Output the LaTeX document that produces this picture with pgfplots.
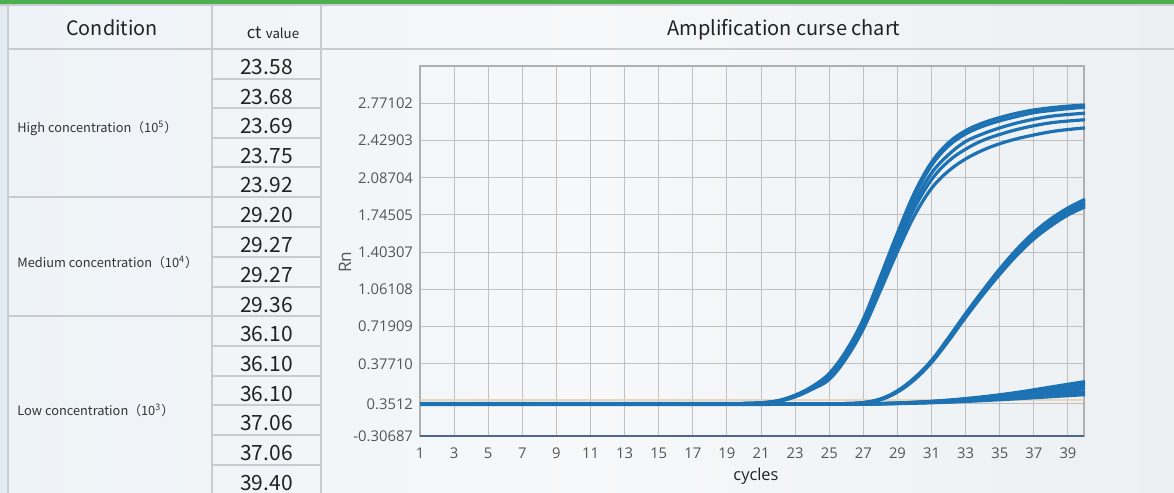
\documentclass[border=0pt]{standalone}
\usepackage{pgfplots}
\pgfplotsset{compat=1.18}
\usepackage{fontspec}
\setmainfont{Noto Sans}
\newfontfamily\cjk{Noto Sans CJK SC}
\newfontfamily\tickfont{Open Sans}
\definecolor{curve}{RGB}{28,114,178}
\definecolor{tline}{RGB}{200,203,207}
\definecolor{gbar}{RGB}{76,175,80}
\definecolor{gridc}{RGB}{192,192,192}
\definecolor{tickc}{RGB}{85,85,85}
\definecolor{txt}{RGB}{34,34,34}
\definecolor{edgebg}{RGB}{226,235,242}
\definecolor{thr}{RGB}{232,214,188}
\definecolor{axbot}{RGB}{78,104,136}
\definecolor{axgray}{RGB}{175,175,175}
\definecolor{grptxt}{RGB}{51,51,51}
\pgfplotsset{qpcr/.style={color=curve, solid, line width=1.6pt, smooth, tension=0.6, mark=none}}

\begin{document}
\begin{tikzpicture}
\begin{scope}[x=0.5pt,y=-0.5pt]
\useasboundingbox (0,0) rectangle (1174,493);
\shade[left color={rgb,255:red,238;green,243;blue,247}, right color={rgb,255:red,236;green,240;blue,243}, middle color={rgb,255:red,246;green,248;blue,250}] (0,0) rectangle (1174,493);
\fill[edgebg] (0,6) rectangle (8,493);
\fill[gbar] (0,0) rectangle (1174,3.5);
\fill[tline] (0,3.5) rectangle (1174,6);
% table lines
\begin{scope}[tline, line width=1pt]
\draw (8,5) -- (8,493);
\draw (212,5) -- (212,493);
\draw (321,5) -- (321,493);
\draw (8,49) -- (1174,49);
\draw (8,197) -- (321,197);
\draw (8,316) -- (321,316);
\foreach \y in {79,108,138,167,227,257,287,346,376,405,435,465}
  \draw (212,\y) -- (321,\y);
\end{scope}
% header texts
\node[font=\cjk\fontsize{9.9}{11}\selectfont, text=txt] at (112,28) {Condition};
\node[font=\cjk, text=txt] at (273,33) {{\fontsize{8.3}{10}\selectfont ct} {\fontsize{6.6}{8}\selectfont value}};
\node[font=\cjk\fontsize{10}{11}\selectfont, text=txt] at (784,30) {Amplification curse chart};
% group labels
\begin{scope}[font=\cjk\fontsize{6.4}{8}\selectfont, text=grptxt]
\node[anchor=west, inner sep=0pt] at (17,128) {High concentration（10\textsuperscript{5}）};
\node[anchor=west, inner sep=0pt] at (17,262) {Medium concentration（10\textsuperscript{4}）};
\node[anchor=west, inner sep=0pt] at (17,410) {Low concentration（10\textsuperscript{3}）};
\end{scope}
% ct values
\foreach \v/\y in {23.58/64,23.68/93.5,23.69/123,23.75/152.5,23.92/182,29.20/212,29.27/242,29.27/272,29.36/301.5,36.10/331,36.10/361,36.10/390.5,37.06/420,37.06/450,39.40/479.5}
  \node[font=\cjk\fontsize{10.5}{12}\selectfont, text=txt, inner sep=0pt] at (266.5,\y+3.5) {\v};
\end{scope}

\begin{axis}[
  at={(210pt,-218pt)}, anchor=south west,
  width=332pt, height=185pt, scale only axis,
  xmin=1, xmax=39.94, ymin=-0.285, ymax=3.1136,
  clip=false,
  xtick={1,3,...,39},
  ytick={-0.285,0.009,0.37710,0.71909,1.06108,1.40307,1.74505,2.08704,2.42903,2.77102},
  yticklabels={-0.30687,0.3512,0.37710,0.71909,1.06108,1.40307,1.74505,2.08704,2.42903,2.77102},
  grid=major,
  major grid style={gridc, line width=0.5pt},
  axis line style={axgray, line width=0.6pt},
  major tick length=0pt,
  /pgf/number format/assume math mode=true,
  tick label style={font=\tickfont\fontsize{7.4}{9}\selectfont, text=tickc},
  xticklabel style={yshift=-2.2pt},
  xlabel={cycles}, ylabel={Rn},
  xlabel style={at={(axis description cs:0.506,-0.108)}, anchor=center, font=\tickfont\fontsize{8.2}{10}\selectfont, text=txt},
  ylabel style={at={(axis description cs:-0.113,0.47)}, anchor=center, font=\tickfont\fontsize{8.6}{10}\selectfont, text=tickc},
]
% threshold
\addplot[thr, line width=0.6pt, sharp plot, mark=none] coordinates {(1,0.045) (39.94,0.045)};
% low concentration
\addplot[qpcr] coordinates {(1,0.01)(10,0.01)(20,0.011)(26,0.011)(28,0.013)(30,0.025)(32,0.045)(34,0.075)(36,0.115)(38,0.165)(40,0.215)};
\addplot[qpcr] coordinates {(1,0.012)(10,0.012)(20,0.012)(26,0.012)(28,0.014)(30,0.024)(32,0.042)(34,0.07)(36,0.105)(38,0.15)(40,0.2)};
\addplot[qpcr] coordinates {(1,0.008)(10,0.008)(20,0.009)(26,0.01)(28,0.012)(30,0.022)(32,0.038)(34,0.062)(36,0.095)(38,0.135)(40,0.175)};
\addplot[qpcr] coordinates {(1,0.01)(10,0.01)(20,0.01)(26,0.01)(28,0.012)(30,0.02)(32,0.034)(34,0.055)(36,0.083)(38,0.115)(40,0.15)};
\addplot[qpcr] coordinates {(1,0.006)(10,0.006)(20,0.007)(26,0.008)(28,0.011)(30,0.018)(32,0.03)(34,0.047)(36,0.07)(38,0.095)(40,0.12)};
\addplot[qpcr] coordinates {(1,0.004)(10,0.004)(20,0.005)(26,0.007)(28,0.01)(30,0.016)(32,0.026)(34,0.04)(36,0.057)(38,0.076)(40,0.095)};
% medium concentration
\addplot[qpcr] coordinates {(1,0.012)(10,0.012)(20,0.012)(25,0.012)(26,0.013)(27,0.022)(28,0.055)(29,0.13)(30,0.25)(31,0.41)(32,0.62)(33,0.84)(34,1.05)(35,1.25)(36,1.43)(37,1.585)(38,1.71)(39,1.81)(40,1.89)};
\addplot[qpcr] coordinates {(1,0.01)(10,0.01)(20,0.011)(25,0.011)(26,0.012)(27,0.021)(28,0.053)(29,0.127)(30,0.245)(31,0.405)(32,0.61)(33,0.83)(34,1.04)(35,1.235)(36,1.41)(37,1.565)(38,1.69)(39,1.79)(40,1.865)};
\addplot[qpcr] coordinates {(1,0.012)(10,0.012)(20,0.012)(25,0.012)(26,0.013)(27,0.02)(28,0.05)(29,0.123)(30,0.24)(31,0.4)(32,0.6)(33,0.82)(34,1.025)(35,1.22)(36,1.395)(37,1.545)(38,1.67)(39,1.77)(40,1.845)};
\addplot[qpcr] coordinates {(1,0.008)(10,0.008)(20,0.009)(25,0.009)(26,0.01)(27,0.018)(28,0.047)(29,0.118)(30,0.232)(31,0.39)(32,0.59)(33,0.805)(34,1.01)(35,1.2)(36,1.375)(37,1.525)(38,1.645)(39,1.745)(40,1.82)};
% high concentration
\addplot[qpcr] coordinates {(1,0.012)(10,0.012)(19,0.012)(20,0.014)(21,0.02)(22,0.04)(23,0.09)(24,0.17)(25,0.29)(26,0.5)(27,0.79)(28,1.18)(29,1.58)(30,1.95)(31,2.23)(32,2.41)(33,2.52)(34,2.59)(35,2.64)(36,2.68)(37,2.71)(38,2.73)(39,2.745)(40,2.755)};
\addplot[qpcr] coordinates {(1,0.014)(10,0.014)(19,0.014)(20,0.015)(21,0.02)(22,0.038)(23,0.087)(24,0.165)(25,0.28)(26,0.49)(27,0.775)(28,1.16)(29,1.56)(30,1.92)(31,2.2)(32,2.38)(33,2.49)(34,2.56)(35,2.61)(36,2.65)(37,2.685)(38,2.705)(39,2.722)(40,2.735)};
\addplot[qpcr] coordinates {(1,0.01)(10,0.01)(19,0.01)(20,0.012)(21,0.018)(22,0.036)(23,0.083)(24,0.16)(25,0.27)(26,0.47)(27,0.75)(28,1.12)(29,1.51)(30,1.86)(31,2.13)(32,2.3)(33,2.42)(34,2.49)(35,2.545)(36,2.59)(37,2.625)(38,2.652)(39,2.668)(40,2.68)};
\addplot[qpcr] coordinates {(1,0.012)(10,0.012)(19,0.012)(20,0.013)(21,0.017)(22,0.034)(23,0.08)(24,0.155)(25,0.255)(26,0.45)(27,0.73)(28,1.09)(29,1.47)(30,1.81)(31,2.07)(32,2.24)(33,2.35)(34,2.43)(35,2.485)(36,2.53)(37,2.565)(38,2.592)(39,2.608)(40,2.62)};
\addplot[qpcr] coordinates {(1,0.009)(10,0.009)(19,0.009)(20,0.011)(21,0.016)(22,0.032)(23,0.075)(24,0.145)(25,0.235)(26,0.43)(27,0.7)(28,1.05)(29,1.41)(30,1.74)(31,1.99)(32,2.15)(33,2.26)(34,2.34)(35,2.4)(36,2.445)(37,2.48)(38,2.51)(39,2.53)(40,2.545)};
% bottom axis line
\draw[axbot, line width=0.8pt] (axis cs:1,-0.285) -- (axis cs:39.94,-0.285);
\end{axis}
\end{tikzpicture}
\end{document}
